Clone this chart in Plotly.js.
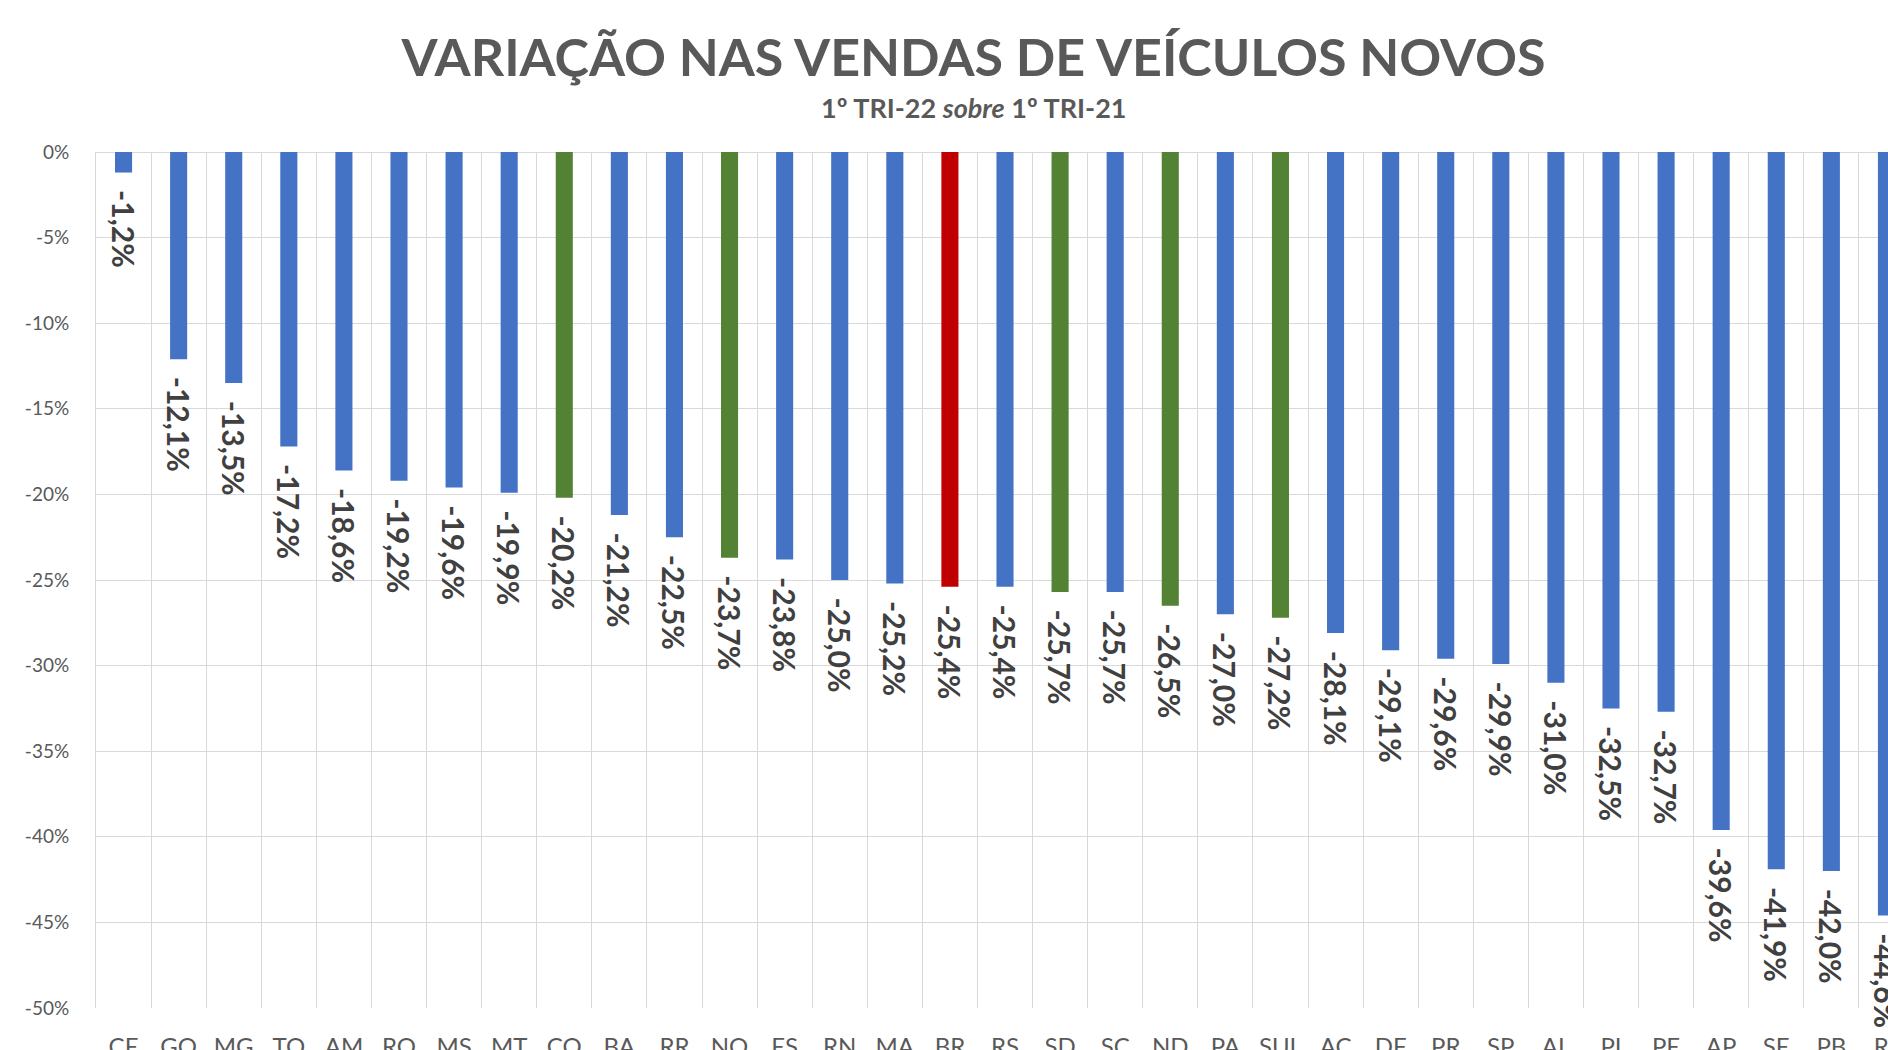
<!DOCTYPE html>
<html>
<head>
<meta charset="utf-8">
<script src="https://cdn.plot.ly/plotly-3.0.1.min.js"></script>
<style>
html,body{margin:0;padding:0;overflow:hidden;background:#fff;}
#chart{width:1947px;height:1070px;}
</style>
</head>
<body>
<div id="chart"></div>
<script>
// Categories (states, regions, Brazil total)
const categories = ['CE','GO','MG','TO','AM','RO','MS','MT','CO','BA','RR','NO','ES','RN','MA','BR','RS','SD','SC','ND','PA','SUL','AC','DF','PR','SP','AL','PI','PE','AP','SE','PB','RJ'];
// Variation in new-vehicle sales, Q1-22 over Q1-21 (%)
const values = [-1.2,-12.1,-13.5,-17.2,-18.6,-19.2,-19.6,-19.9,-20.2,-21.2,-22.5,-23.7,-23.8,-25.0,-25.2,-25.4,-25.4,-25.7,-25.7,-26.5,-27.0,-27.2,-28.1,-29.1,-29.6,-29.9,-31.0,-32.5,-32.7,-39.6,-41.9,-42.0,-44.6];
// Groupings
const regions = ['CO','NO','SD','ND','SUL'];
const national = 'BR';
// Y tick values / labels
const yTickVals = [0,-5,-10,-15,-20,-25,-30,-35,-40,-45,-50];
const yTickText = ['0%','-5%','-10%','-15%','-20%','-25%','-30%','-35%','-40%','-45%','-50%'];

const BLUE = '#4472C4', GREEN = '#548235', RED = '#C00000';
const colors = categories.map(c => c === national ? RED : (regions.includes(c) ? GREEN : BLUE));
const labels = values.map(v => '\u00A0\u00A0' + v.toFixed(1).replace('.', ',') + '%');

const trace = {
  type: 'bar',
  x: categories,
  y: values,
  marker: {color: colors},
  text: labels,
  textposition: 'outside',
  textangle: 90,
  constraintext: 'none',
  cliponaxis: false,
  textfont: {family: 'Lato, sans-serif', size: 30, color: '#404040', weight: 'bold'},
  hoverinfo: 'none'
};

const layout = {
  margin: {l: 96, r: 33, t: 152, b: 62},
  paper_bgcolor: '#ffffff',
  plot_bgcolor: '#ffffff',
  bargap: 0.69,
  showlegend: false,
  title: {
    text: '<b>VARIAÇÃO NAS VENDAS DE VEÍCULOS NOVOS</b>',
    font: {family: 'Lato, sans-serif', size: 52, color: '#595959'},
    x: 0.5, xref: 'container', xanchor: 'center',
    y: 1 - 58/1070, yref: 'container', yanchor: 'middle'
  },
  annotations: [{
    text: '<b>1º TRI-22 <i>sobre</i> 1º TRI-21</b>',
    xref: 'paper', yref: 'paper',
    x: (973.5 - 96) / 1818, y: (1008 - 107) / 856,
    xanchor: 'center', yanchor: 'middle',
    showarrow: false,
    font: {family: 'Lato, sans-serif', size: 27, color: '#595959'}
  }],
  xaxis: {
    type: 'category',
    tickson: 'boundaries',
    showgrid: true,
    gridcolor: '#D9D9D9',
    gridwidth: 1,
    ticks: '',
    ticklabelstandoff: 22,
    tickfont: {family: 'Lato, sans-serif', size: 24, color: '#595959'},
    showline: false,
    zeroline: false,
    automargin: false,
    fixedrange: true
  },
  yaxis: {
    range: [-50, 0],
    tickvals: yTickVals,
    ticktext: yTickText,
    showgrid: true,
    gridcolor: '#D9D9D9',
    gridwidth: 1,
    zeroline: true,
    zerolinecolor: '#D9D9D9',
    zerolinewidth: 1,
    showline: true,
    linecolor: '#D9D9D9',
    linewidth: 1,
    ticks: 'outside',
    ticklen: 22,
    tickcolor: 'rgba(0,0,0,0)',
    tickfont: {family: 'Lato, sans-serif', size: 19, color: '#595959'},
    automargin: false,
    fixedrange: true
  }
};

Plotly.newPlot('chart', [trace], layout, {staticPlot: true, displayModeBar: false});
</script>
</body>
</html>
